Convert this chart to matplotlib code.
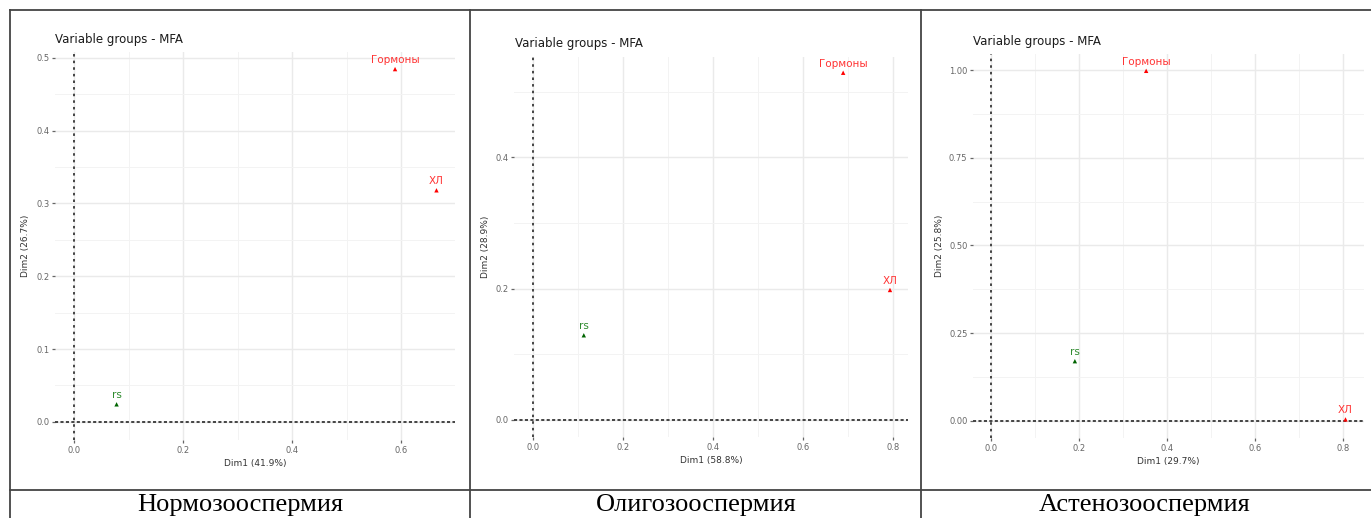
import matplotlib
matplotlib.use("Agg")
import matplotlib.pyplot as plt
import numpy as np

# data
groups = ["Гормоны", "ХЛ", "rs"]
group_colors = ["#FF0000", "#FF0000", "#006400"]
label_colors = ["#FF3333", "#FF3333", "#2E8B2E"]

norm_x = [0.589, 0.665, 0.078]
norm_y = [0.4845, 0.318, 0.024]
oligo_x = [0.689, 0.793, 0.113]
oligo_y = [0.529, 0.198, 0.129]
asteno_x = [0.352, 0.805, 0.190]
asteno_y = [0.998, 0.004, 0.170]

captions = ["Нормозооспермия", "Олигозооспермия", "Астенозооспермия"]
xlabels = ["Dim1 (41.9%)", "Dim1 (58.8%)", "Dim1 (29.7%)"]
ylabels = ["Dim2 (26.7%)", "Dim2 (28.9%)", "Dim2 (25.8%)"]

W, H = 1371, 518
fig = plt.figure(figsize=(W / 100, H / 100), dpi=100)

def px_axes(x0, y0, x1, y1):
    return fig.add_axes([x0 / W, 1 - y1 / H, (x1 - x0) / W, (y1 - y0) / H])

panels = [
    dict(box=(55, 52, 455, 440), xlim=(-0.035, 0.699), ylim=(-0.025, 0.508),
         xmaj=[0.0, 0.2, 0.4, 0.6], xmin=[0.1, 0.3, 0.5],
         ymaj=[0.0, 0.1, 0.2, 0.3, 0.4, 0.5], ymin=[0.05, 0.15, 0.25, 0.35, 0.45],
         yfmt="{:.1f}", x=norm_x, y=norm_y, title_x=55, title_y=40, ylab_x=30),
    dict(box=(514, 57, 908, 437), xlim=(-0.042, 0.833), ylim=(-0.026, 0.553),
         xmaj=[0.0, 0.2, 0.4, 0.6, 0.8], xmin=[0.1, 0.3, 0.5, 0.7],
         ymaj=[0.0, 0.2, 0.4], ymin=[0.1, 0.3, 0.5],
         yfmt="{:.1f}", x=oligo_x, y=oligo_y, title_x=515, title_y=44, ylab_x=490),
    dict(box=(973, 54, 1364, 438), xlim=(-0.0415, 0.847), ylim=(-0.049, 1.046),
         xmaj=[0.0, 0.2, 0.4, 0.6, 0.8], xmin=[0.1, 0.3, 0.5, 0.7],
         ymaj=[0.0, 0.25, 0.5, 0.75, 1.0], ymin=[0.125, 0.375, 0.625, 0.875],
         yfmt="{:.2f}", x=asteno_x, y=asteno_y, title_x=973, title_y=41, ylab_x=944),
]

for i, p in enumerate(panels):
    ax = px_axes(*p["box"])
    ax.set_xlim(*p["xlim"])
    ax.set_ylim(*p["ylim"])
    for s in ax.spines.values():
        s.set_visible(False)
    ax.set_xticks(p["xmaj"])
    ax.set_xticklabels(["{:.1f}".format(v) for v in p["xmaj"]])
    ax.set_yticks(p["ymaj"])
    ax.set_yticklabels([p["yfmt"].format(v) for v in p["ymaj"]])
    ax.set_xticks(p["xmin"], minor=True)
    ax.set_yticks(p["ymin"], minor=True)
    ax.tick_params(which="major", length=2, width=0.9, color="#666666",
                   labelsize=6, labelcolor="#666666", pad=2)
    ax.tick_params(which="minor", length=0)
    ax.grid(which="major", color="#EAEAEA", lw=1.0)
    ax.grid(which="minor", color="#F3F3F3", lw=0.7)
    ax.set_axisbelow(True)
    ax.axhline(0, color="#444444", lw=1.4, ls=(0, (1.6, 1.2)))
    ax.axvline(0, color="#444444", lw=1.4, ls=(0, (1.3, 2.1)))
    ax.scatter(p["x"], p["y"], marker="^", s=10, c=group_colors, zorder=3, linewidths=0)
    for g, xv, yv, lc in zip(groups, p["x"], p["y"], label_colors):
        ax.annotate(g, (xv, yv), xytext=(0, 3), textcoords="offset points",
                    ha="center", va="bottom", fontsize=7.5, color=lc)
    ax.set_xlabel(xlabels[i], fontsize=6.5, color="#333333", labelpad=3)
    ax.set_ylabel(ylabels[i], fontsize=6.5, color="#333333")
    ax.yaxis.set_label_coords((p["ylab_x"] - p["box"][0]) / (p["box"][2] - p["box"][0]), 0.5)
    fig.text(p["title_x"] / W, 1 - p["title_y"] / H, "Variable groups - MFA",
             fontsize=8.5, color="#1A1A1A", ha="left", va="center")

# table borders
lc = "#444444"
fig.add_artist(plt.Line2D([10 / W, 1], [1 - 10 / H] * 2, color=lc, lw=1.3))
fig.add_artist(plt.Line2D([10 / W, 1], [1 - 490 / H] * 2, color=lc, lw=1.3))
for xv in [10, 470, 921]:
    fig.add_artist(plt.Line2D([xv / W] * 2, [0, 1 - 10 / H], color=lc, lw=1.3))

cap_x = [240, 696, 1145]
for cx, cap in zip(cap_x, captions):
    fig.text(cx / W, 1 - 511.5 / H, cap, fontsize=19, family="Liberation Serif",
             ha="center", va="baseline", color="black")

fig.savefig("out.png", dpi=100, facecolor="white")
